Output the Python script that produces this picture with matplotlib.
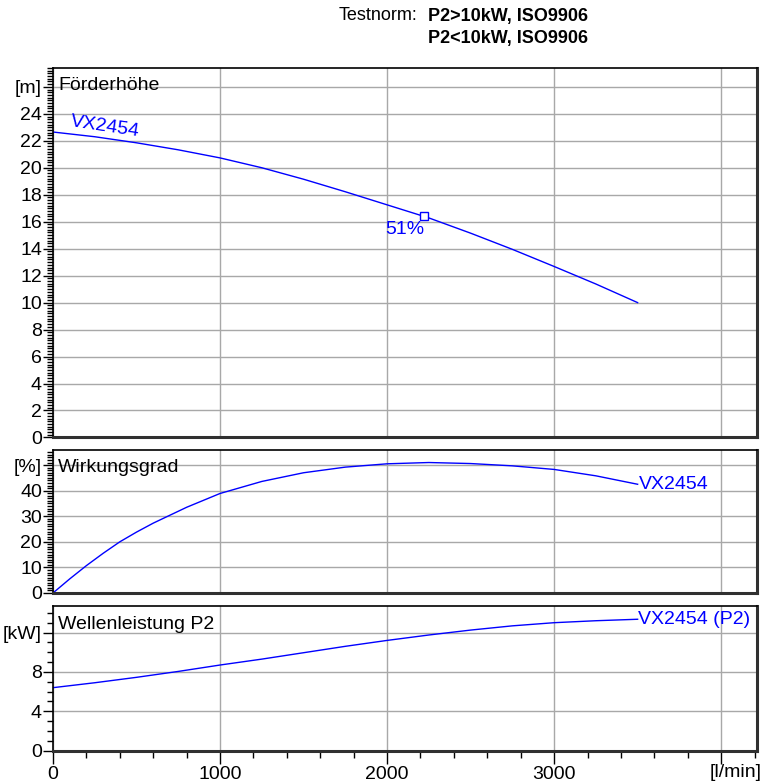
import matplotlib
matplotlib.use("Agg")
import matplotlib.pyplot as plt
from matplotlib.ticker import MultipleLocator, FixedLocator

plt.rcParams['font.family'] = ['Liberation Sans', 'DejaVu Sans']

# Förderhöhe (m)
q_head = [0, 250, 500, 750, 1000, 1250, 1500, 1750, 2000, 2250, 2500, 2750, 3000, 3250, 3500]
head = [22.65, 22.3, 21.85, 21.33, 20.73, 20.0, 19.15, 18.22, 17.25, 16.28, 15.15, 13.95, 12.68, 11.38, 10.0]
duty_q, duty_h = 2222, 16.41

# Wirkungsgrad (%)
q_eff = [0, 100, 200, 300, 400, 500, 600, 800, 1000, 1250, 1500, 1750, 2000, 2250, 2500, 2750, 3000, 3250, 3500]
eff = [0, 5.5, 10.7, 15.5, 20.0, 23.8, 27.3, 33.5, 38.9, 43.6, 47.0, 49.2, 50.5, 51.0, 50.6, 49.7, 48.3, 45.8, 42.5]

# Wellenleistung P2 (kW)
q_pow = [0, 250, 500, 750, 1000, 1250, 1500, 1750, 2000, 2250, 2500, 2750, 3000, 3250, 3500]
power = [6.4, 6.9, 7.45, 8.05, 8.7, 9.3, 9.95, 10.6, 11.2, 11.75, 12.25, 12.68, 13.0, 13.2, 13.35]

blue = '#0000ff'
grid_c = '#a8a8a8'
fs = 14

fig = plt.figure(figsize=(7.74, 7.83), dpi=100)
left, width = 0.0685, 0.9096
ax1 = fig.add_axes([left, 0.4413, width, 0.4719])
ax2 = fig.add_axes([left, 0.2427, width, 0.1826])
ax3 = fig.add_axes([left, 0.0413, width, 0.1848])

def style(ax, ymax, majors, unit, minor):
    ax.set_xlim(0, 4215)
    ax.set_ylim(0, ymax)
    ax.yaxis.set_major_locator(FixedLocator(majors))
    ax.set_yticklabels([str(v) for v in majors[:-1]] + [unit])
    ax.yaxis.set_minor_locator(MultipleLocator(minor))
    ax.xaxis.set_major_locator(FixedLocator([0, 1000, 2000, 3000, 4000]))
    ax.xaxis.set_minor_locator(MultipleLocator(200))
    ax.grid(True, which='major', color=grid_c, lw=1)
    ax.set_axisbelow(True)
    ax.tick_params(axis='y', which='major', length=7, width=1, pad=1, labelsize=fs)
    ax.tick_params(axis='y', which='minor', length=4, width=1)
    for s in ['top', 'left']:
        ax.spines[s].set_linewidth(1.2)
        ax.spines[s].set_color('black')
    for s in ['right', 'bottom']:
        ax.spines[s].set_linewidth(2.2)
        ax.spines[s].set_color('#303030')

style(ax1, 27.4, list(range(0, 27, 2)), '[m]', 0.2)
style(ax2, 55.9, [0, 10, 20, 30, 40, 50], '[%]', 1)
style(ax3, 14.7, [0, 4, 8, 12], '[kW]', 1)

for ax in (ax1, ax2):
    ax.tick_params(axis='x', which='both', length=0, labelbottom=False)
ax3.tick_params(axis='x', which='major', length=9, width=1, pad=2, labelsize=fs)
ax3.tick_params(axis='x', which='minor', length=5, width=1)
ax3.set_xticklabels(['0', '1000', '2000', '3000', ''])
ax3.text(4085, -0.15, '[l/min]', transform=ax3.get_xaxis_transform(),
         ha='center', va='center', fontsize=fs, clip_on=False)

# curves
ax1.plot(q_head, head, color=blue, lw=1)
ax1.plot([duty_q], [duty_h], marker='s', ms=6, mfc='white', mec=blue, mew=1)
ax1.text(duty_q, duty_h - 0.35, '51%', color=blue, fontsize=fs, ha='right', va='top')
ax1.text(95, 22.8, 'VX2454', color=blue, fontsize=fs, rotation=-8.5,
         rotation_mode='anchor', ha='left', va='bottom')
ax1.text(0.007, 0.9405, 'Förderhöhe', transform=ax1.transAxes, fontsize=fs,
         ha='left', va='baseline')

ax2.plot(q_eff, eff, color=blue, lw=1)
ax2.text(3505, eff[-1], 'VX2454', color=blue, fontsize=fs, ha='left', va='center')
ax2.text(0.007, 0.846, 'Wirkungsgrad', transform=ax2.transAxes, fontsize=fs,
         ha='left', va='baseline')

ax3.plot(q_pow, power, color=blue, lw=1)
ax3.text(3505, power[-1], 'VX2454 (P2)', color=blue, fontsize=fs, ha='left', va='center')
ax3.text(0.007, 0.841, 'Wellenleistung P2', transform=ax3.transAxes, fontsize=fs,
         ha='left', va='baseline')

# header
fig.text(339 / 774, 1 - 16 / 783, 'Testnorm:', fontsize=13, ha='left', va='center')
fig.text(428 / 774, 1 - 16 / 783, 'P2>10kW, ISO9906', fontsize=13,
         fontweight='bold', ha='left', va='center')
fig.text(428 / 774, 1 - 38 / 783, 'P2<10kW, ISO9906', fontsize=13,
         fontweight='bold', ha='left', va='center')

fig.savefig('out.png', dpi=100)
